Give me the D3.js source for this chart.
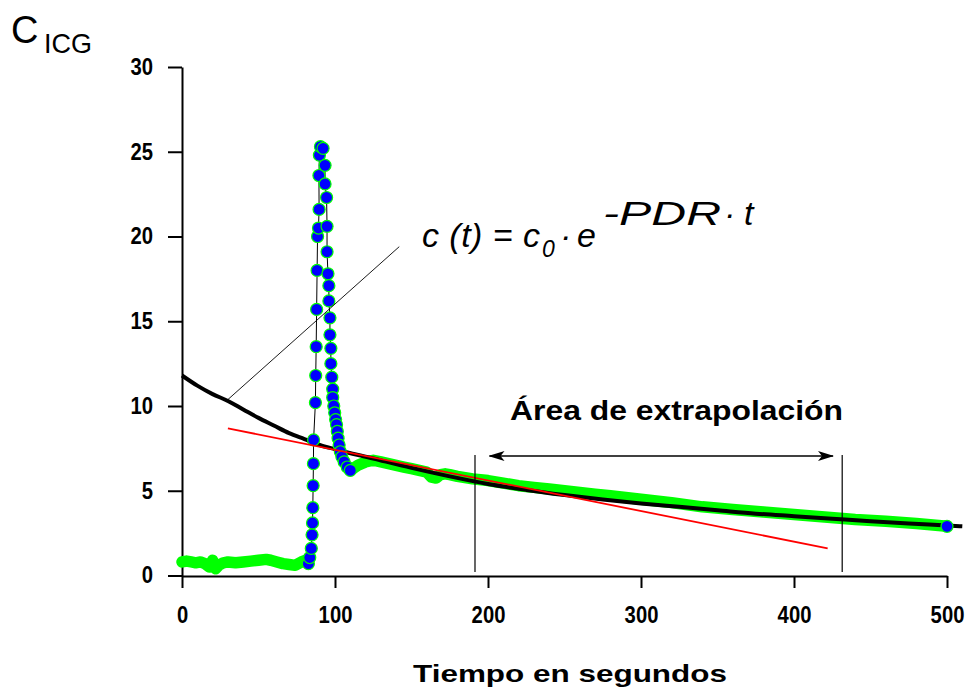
<!DOCTYPE html>
<html>
<head>
<meta charset="utf-8">
<script src="https://cdn.jsdelivr.net/npm/d3@7"></script>
<style>
    body { margin: 0; background: #fff; }
    svg { display: block; }
    .tick text { font-family: "Liberation Sans", Arial, sans-serif; font-weight: bold; font-size: 23px; fill: #000; }
    .domain, .tick line { stroke: #000; stroke-width: 2; }
</style>
</head>
<body>
<svg id="chart" width="970" height="697"></svg>
<script>
// DATA

const xTicks = [0, 100, 200, 300, 400, 500];
const yTicks = [0, 5, 10, 15, 20, 25, 30];

// measured ICG concentration, before the bolus
const baseTime = [0, 3, 6, 9, 12, 15, 18, 20, 22, 24, 27, 30, 35, 40, 45, 50, 55, 58, 62, 66, 70, 74, 78, 81, 82.6];
const baseConc = [0.8, 0.85, 0.8, 0.75, 0.8, 0.7, 0.5, 0.9, 0.4, 0.6, 0.75, 0.8, 0.75, 0.8, 0.85, 0.9, 0.95, 0.9, 0.8, 0.7, 0.65, 0.6, 0.8, 0.9, 0.7];

// the peak, where single samples are visible
const peakTime = [82.6, 83.5, 84.5, 85.0, 85.3, 85.5, 85.7, 85.9, 86.0, 87.2, 87.4, 87.7, 88.0, 88.3, 88.6, 89.2, 89.6, 89.5, 89.8, 90.5, 92.2,
    93.5, 93.5, 94.5, 94.8, 94.8, 95.4, 96.0, 96.0, 96.7, 96.7, 97.3, 97.3, 97.9, 98.5, 98.5, 99.2, 99.8, 100.4, 101.0, 101.5,
    102.0, 102.7, 103.5, 104.5, 106.0, 108.0, 110.0];
const peakConc = [0.7, 1.06, 1.6, 2.4, 3.1, 4.0, 5.3, 6.6, 8.0, 10.2, 11.8, 13.5, 15.7, 18.0, 20.0, 20.5, 21.6, 23.6, 24.8, 25.3, 25.2,
    24.2, 23.1, 22.3, 20.6, 19.1, 17.8, 17.1, 16.2, 15.2, 14.2, 13.4, 12.5, 11.7, 11.0, 10.5, 10.0, 9.6, 9.2, 8.9, 8.5,
    8.1, 7.7, 7.3, 7.0, 6.7, 6.4, 6.2];

// the slow decay after the peak
const tailTime = [110, 115, 120, 125, 130, 135, 140, 145, 150, 155, 160, 163, 166, 169, 172, 175, 180, 190, 200, 210, 220, 230, 240, 250,
    260, 270, 280, 290, 300, 320, 340, 360, 380, 400, 420, 440, 460, 480, 500];
const tailConc = [6.2, 6.5, 6.7, 6.8, 6.7, 6.6, 6.5, 6.4, 6.3, 6.2, 6.1, 5.8, 5.75, 5.95, 6.0, 5.95, 5.85, 5.7, 5.6, 5.45, 5.3, 5.2, 5.1, 5.0,
    4.9, 4.8, 4.7, 4.6, 4.5, 4.3, 4.05, 3.9, 3.75, 3.6, 3.45, 3.3, 3.2, 3.07, 2.9];

// fitted curve c(t) = c0 * e^(-PDR t)
const fitTime = [0, 10, 20, 30, 40, 50, 60, 70, 80, 90, 100, 125, 150, 175, 200, 225, 250, 275, 300, 325, 350, 375, 400, 425, 450, 475, 500, 510];
const fitConc = [11.8, 11.2, 10.7, 10.3, 9.8, 9.3, 8.85, 8.4, 8.05, 7.7, 7.45, 6.9, 6.35, 5.85, 5.4, 5.05, 4.75, 4.48, 4.25, 4.05, 3.85, 3.65, 3.5, 3.35, 3.2, 3.07, 2.95, 2.9];

// straight red line
const redTime = [30, 422];
const redConc = [8.68, 1.6];

// pointer from the formula to the curve
const pointerTime = [29, 142];
const pointerConc = [10.3, 19.4];

// extrapolation area
const areaTime = [191.5, 431.5];
const arrowTime = [201, 425.5];
const areaTop = 7.05;

////////////////////////////////////////////////////////////////////////////////

const svg = d3.select('#chart');

const x = d3.scaleLinear().domain([0, 500]).range([182, 947]);
const y = d3.scaleLinear().domain([0, 30]).range([575.5, 67]);

const line = d3.line().x(d => x(d[0])).y(d => y(d[1]));
const zip = (a, b) => a.map((v, i) => [v, b[i]]);

const base = zip(baseTime, baseConc);
const peak = zip(peakTime, peakConc);
const tail = zip(tailTime, tailConc);

// axes
svg.append('g')
    .attr('transform', 'translate(0,576)')
    .call(d3.axisBottom(x).tickValues(xTicks).tickSize(12).tickSizeOuter(0).tickPadding(19))
    .selectAll('.tick text')
    .attr('transform', 'scale(0.88,1)');

svg.append('g')
    .attr('transform', 'translate(182,0)')
    .call(d3.axisLeft(y).tickValues(yTicks).tickSize(14).tickSizeOuter(0).tickPadding(15))
    .selectAll('.tick text')
    .attr('x', 0)
    .attr('transform', 'translate(-29,0) scale(0.88,1)');

// thin raw line through every sample
svg.append('path')
    .attr('d', line(base.concat(peak, tail)))
    .attr('fill', 'none')
    .attr('stroke', '#000')
    .attr('stroke-width', 1);

// dense samples merge into a green band
[base, tail].forEach(seg => {
    svg.append('path')
        .attr('d', line(seg))
        .attr('fill', 'none')
        .attr('stroke', '#00ff00')
        .attr('stroke-width', 11.5)
        .attr('stroke-linejoin', 'round')
        .attr('stroke-linecap', 'round');
});

// fitted curve
svg.append('path')
    .attr('d', line.curve(d3.curveMonotoneX)(zip(fitTime, fitConc)))
    .attr('fill', 'none')
    .attr('stroke', '#000')
    .attr('stroke-width', 4);
line.curve(d3.curveLinear);

// single markers of the peak and the last sample
svg.selectAll('.marker')
    .data(peak.concat([tail[tail.length - 1]]))
    .enter()
    .append('circle')
    .attr('class', 'marker')
    .attr('cx', d => x(d[0]))
    .attr('cy', d => y(d[1]))
    .attr('r', 6)
    .attr('fill', '#0000ff')
    .attr('stroke', '#00ff00')
    .attr('stroke-width', 1.2);

// red line
svg.append('path')
    .attr('d', line(zip(redTime, redConc)))
    .attr('stroke', '#ff0000')
    .attr('stroke-width', 1.8);

// pointer
svg.append('path')
    .attr('d', line(zip(pointerTime, pointerConc)))
    .attr('stroke', '#000')
    .attr('stroke-width', 0.9);

// extrapolation area
areaTime.forEach(t => {
    svg.append('line')
        .attr('x1', x(t)).attr('x2', x(t))
        .attr('y1', y(areaTop) - 1).attr('y2', 572)
        .attr('stroke', '#000')
        .attr('stroke-width', 1.2);
});

const defs = svg.append('defs');
defs.append('marker')
    .attr('id', 'head')
    .attr('viewBox', '0 0 16 10')
    .attr('refX', 15).attr('refY', 5)
    .attr('markerWidth', 16).attr('markerHeight', 10)
    .attr('markerUnits', 'userSpaceOnUse')
    .attr('orient', 'auto-start-reverse')
    .append('path')
    .attr('d', 'M0,0 L16,5 L0,10 L4,5 Z')
    .attr('fill', '#000');

svg.append('line')
    .attr('x1', x(arrowTime[0])).attr('x2', x(arrowTime[1]))
    .attr('y1', y(areaTop)).attr('y2', y(areaTop))
    .attr('stroke', '#000')
    .attr('stroke-width', 1.5)
    .attr('marker-start', 'url(#head)')
    .attr('marker-end', 'url(#head)');

// texts
const font = '"Liberation Sans", Arial, sans-serif';

svg.append('text').attr('x', 11).attr('y', 43)
    .attr('font-family', font).attr('font-size', 38).text('C');
svg.append('text').attr('x', 44).attr('y', 53)
    .attr('font-family', font).attr('font-size', 28)
    .attr('textLength', 48).attr('lengthAdjust', 'spacingAndGlyphs').text('ICG');

svg.append('text').attr('x', 413).attr('y', 682)
    .attr('font-family', font).attr('font-size', 24).attr('font-weight', 'bold')
    .attr('textLength', 314).attr('lengthAdjust', 'spacingAndGlyphs')
    .text('Tiempo en segundos');

svg.append('text').attr('x', 510).attr('y', 420)
    .attr('font-family', font).attr('font-size', 27).attr('font-weight', 'bold')
    .attr('textLength', 333).attr('lengthAdjust', 'spacingAndGlyphs')
    .text('Área de extrapolación');

const f = svg.append('g').attr('font-family', font).attr('font-style', 'italic');
f.append('text').attr('x', 422).attr('y', 247).attr('font-size', 34)
    .attr('textLength', 118).attr('lengthAdjust', 'spacing').text('c (t) = c');
f.append('text').attr('x', 542).attr('y', 257).attr('font-size', 23).text('0');
f.append('text').attr('x', 560).attr('y', 247).attr('font-size', 34).text('·');
f.append('text').attr('x', 577).attr('y', 247).attr('font-size', 34).text('e');
f.append('text').attr('x', 603).attr('y', 225).attr('font-size', 34)
    .attr('textLength', 118).attr('lengthAdjust', 'spacingAndGlyphs').text('-PDR');
f.append('text').attr('x', 724).attr('y', 225).attr('font-size', 34).text('·');
f.append('text').attr('x', 744).attr('y', 225).attr('font-size', 34).text('t');
</script>
</body>
</html>
